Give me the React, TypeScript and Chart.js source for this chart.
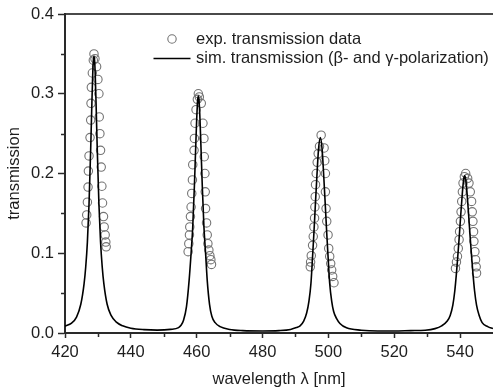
import React, { useEffect, useRef } from 'react';
import { Chart, registerables } from 'chart.js';

Chart.register(...registerables);

// ---- data ----
const simWavelength = [
  420, 422, 423.5, 424.8, 425.8, 426.3, 426.8, 427.3, 427.8, 428.1, 428.4, 428.6, 428.8, 429.0, 429.2, 429.5, 429.8,
  430.3, 430.8, 431.3, 431.8, 432.8, 434.0, 435.5, 437.5, 440, 444, 448, 452, 454.5, 455.3, 456.0, 456.9, 457.7,
  458.3, 458.8, 459.3, 459.7, 460.0, 460.3, 460.5, 460.7, 461.0, 461.3, 461.7, 462.2, 462.7, 463.2, 463.9, 464.6,
  465.6, 467.1, 470, 474, 480, 485, 488.5, 490.3, 491.4, 492.5, 493.4, 494.1, 494.7, 495.2, 495.6, 496.0, 496.5,
  497.0, 497.55, 498.1, 498.6, 499.1, 499.5, 499.9, 500.4, 501.0, 501.6, 502.5, 503.5, 505.5, 510, 515, 520, 525,
  529.4, 532.4, 534.4, 536.1, 537.0, 537.8, 538.4, 538.9, 539.3, 539.7, 540.2, 540.7, 541.1, 541.4, 541.7, 542.1,
  542.6, 543.1, 543.5, 543.9, 544.4, 545.0, 545.8, 546.7, 548.4, 550,
];
const simTransmission = [
  0.0085, 0.0125, 0.020, 0.036, 0.062, 0.083, 0.114, 0.162, 0.230, 0.278, 0.322, 0.341, 0.347, 0.341, 0.322, 0.278, 0.230,
  0.162, 0.114, 0.083, 0.062, 0.036, 0.022, 0.014, 0.009, 0.006, 0.0042, 0.0036, 0.0045, 0.0068, 0.010, 0.016, 0.033, 0.066,
  0.100, 0.133, 0.184, 0.233, 0.268, 0.292, 0.297, 0.292, 0.268, 0.233, 0.184, 0.133, 0.100, 0.066, 0.036, 0.021,
  0.013, 0.008, 0.0045, 0.003, 0.0025, 0.003, 0.0045, 0.0068, 0.009, 0.015, 0.025, 0.040, 0.062, 0.096, 0.125, 0.157, 0.196,
  0.230, 0.245, 0.230, 0.196, 0.157, 0.125, 0.096, 0.062, 0.040, 0.027, 0.018, 0.012, 0.0065, 0.0035, 0.0025, 0.0025, 0.003,
  0.0035, 0.0055, 0.009, 0.015, 0.022, 0.035, 0.053, 0.075, 0.096, 0.118, 0.148, 0.176, 0.193, 0.197, 0.193, 0.176,
  0.148, 0.118, 0.096, 0.075, 0.053, 0.035, 0.022, 0.013, 0.008, 0.0055,
];

const expWavelength = [
  426.4, 426.6, 426.8, 427.0, 427.1, 427.3, 427.6, 427.8, 427.9, 428.0, 428.3, 428.6, 428.8, 429.1, 429.6, 430.0, 430.3,
  430.4, 430.6, 430.8, 431.0, 431.2, 431.4, 431.7, 431.9, 432.2, 432.4, 432.5,
  457.4, 457.6, 457.8, 457.9, 458.1, 458.3, 458.5, 458.7, 458.8, 459.2, 459.3, 459.5, 459.8, 460.2, 460.5, 460.8, 461.4,
  461.9, 462.2, 462.3, 462.5, 462.6, 462.7, 463.0, 463.2, 463.4, 463.7, 464.0, 464.3, 464.5,
  494.5, 494.6, 494.8, 495.2, 495.4, 495.6, 495.8, 495.9, 496.0, 496.1, 496.3, 496.6, 496.9, 497.3, 497.8, 498.7, 498.9,
  499.1, 499.1, 499.3, 499.5, 499.9, 500.1, 500.4, 500.7, 501.0, 501.3, 501.7,
  538.6, 538.9, 539.2, 539.45, 539.7, 539.85, 540.1, 540.3, 540.5, 540.7, 540.9, 541.3, 541.7, 542.3, 542.7, 543.1, 543.5,
  543.7, 543.9, 544.1, 544.2, 544.5, 544.7, 544.9, 545.0,
];
const expTransmission = [
  0.138, 0.148, 0.164, 0.183, 0.203, 0.222, 0.245, 0.267, 0.288, 0.308, 0.326, 0.342, 0.350, 0.344, 0.334, 0.318, 0.300,
  0.271, 0.250, 0.229, 0.208, 0.184, 0.163, 0.146, 0.133, 0.123, 0.114, 0.108,
  0.102, 0.112, 0.123, 0.133, 0.146, 0.158, 0.175, 0.192, 0.211, 0.229, 0.244, 0.263, 0.280, 0.293, 0.300, 0.296, 0.288,
  0.263, 0.244, 0.221, 0.200, 0.177, 0.156, 0.138, 0.123, 0.112, 0.104, 0.097, 0.092, 0.086,
  0.083, 0.089, 0.097, 0.110, 0.121, 0.133, 0.144, 0.158, 0.171, 0.186, 0.200, 0.214, 0.225, 0.234, 0.248, 0.232, 0.216,
  0.200, 0.177, 0.156, 0.140, 0.123, 0.106, 0.096, 0.087, 0.079, 0.071, 0.063,
  0.081, 0.089, 0.096, 0.106, 0.117, 0.127, 0.140, 0.152, 0.165, 0.177, 0.188, 0.196, 0.200, 0.194, 0.188, 0.177, 0.165,
  0.152, 0.140, 0.127, 0.115, 0.102, 0.092, 0.083, 0.075,
];

const xMajorTicks = [420, 440, 460, 480, 500, 520, 540];
const xMinorTicks = [430, 450, 470, 490, 510, 530];
const yMajorTicks = [0.0, 0.1, 0.2, 0.3, 0.4];
const yMinorTicks = [0.05, 0.15, 0.25, 0.35];
const xLimits = [420, 550];
const yLimits = [0, 0.4];

const expLabel = 'exp. transmission data';
const simLabel = 'sim. transmission (\u03b2- and \u03b3-polarization)';
const xTitle = 'wavelength \u03bb [nm]';
const yTitle = 'transmission';

const FONT_FAMILY = "'Liberation Sans', Arial, Helvetica, sans-serif";
const FONT_SIZE = 16.5;
const TEXT_COLOR = '#1e1e1e';
const AXIS_COLOR = '#2a2a2a';
const CIRCLE_COLOR = '#747474';

const minorTicksPlugin = {
  id: 'minorTicks',
  afterDraw(chart: any) {
    const ctx = chart.ctx;
    const xs = chart.scales.x;
    const ys = chart.scales.y;
    const area = chart.chartArea;
    ctx.save();
    ctx.strokeStyle = AXIS_COLOR;
    ctx.lineWidth = 1.5;
    ctx.beginPath();
    yMinorTicks.forEach((v) => {
      const py = Math.round(ys.getPixelForValue(v)) + 0.5;
      ctx.moveTo(area.left - 4, py);
      ctx.lineTo(area.left, py);
    });
    xMinorTicks.forEach((v) => {
      const px = Math.round(xs.getPixelForValue(v)) + 0.5;
      ctx.moveTo(px, area.bottom);
      ctx.lineTo(px, area.bottom + 4);
    });
    ctx.stroke();
    ctx.restore();
  },
};

const legendPlugin = {
  id: 'insetLegend',
  afterDraw(chart: any) {
    const ctx = chart.ctx;
    const area = chart.chartArea;
    const ds = chart.data.datasets;
    const markerX = area.left + 107;
    const textX = area.left + 131;
    const rows = [area.top + 25, area.top + 44.5];
    ctx.save();
    ctx.font = `${FONT_SIZE}px ${FONT_FAMILY}`;
    ctx.textBaseline = 'middle';
    ctx.textAlign = 'left';
    ctx.fillStyle = TEXT_COLOR;
    ctx.beginPath();
    ctx.strokeStyle = ds[0].borderColor;
    ctx.lineWidth = ds[0].borderWidth;
    ctx.arc(markerX, rows[0], ds[0].pointRadius, 0, Math.PI * 2);
    ctx.stroke();
    ctx.fillText(ds[0].label, textX, rows[0]);
    ctx.beginPath();
    ctx.strokeStyle = ds[1].borderColor;
    ctx.lineWidth = ds[1].borderWidth;
    ctx.moveTo(markerX - 18.5, rows[1]);
    ctx.lineTo(markerX + 18.5, rows[1]);
    ctx.stroke();
    ctx.fillText(ds[1].label, textX, rows[1]);
    ctx.restore();
  },
};

export default function App() {
  const ref = useRef<HTMLCanvasElement | null>(null);

  useEffect(() => {
    const canvas = ref.current;
    if (!canvas) return;
    const expData = expWavelength.map((x, i) => ({ x, y: expTransmission[i] }));
    const simData = simWavelength.map((x, i) => ({ x, y: simTransmission[i] }));
    const tickFont = { family: FONT_FAMILY, size: FONT_SIZE };

    const chart = new Chart(canvas, {
      type: 'scatter',
      data: {
        datasets: [
          {
            label: expLabel,
            data: expData,
            showLine: false,
            pointStyle: 'circle',
            pointRadius: 4.2,
            pointHoverRadius: 4.2,
            borderColor: CIRCLE_COLOR,
            backgroundColor: 'rgba(0,0,0,0)',
            borderWidth: 1.1,
            order: 1,
          } as any,
          {
            label: simLabel,
            data: simData,
            showLine: true,
            pointRadius: 0,
            borderColor: '#000000',
            backgroundColor: '#000000',
            borderWidth: 1.6,
            cubicInterpolationMode: 'monotone',
            order: 0,
          } as any,
        ],
      },
      options: {
        animation: false,
        responsive: false,
        devicePixelRatio: 1,
        layout: { autoPadding: false, padding: { top: 14, right: 0, left: 0, bottom: 0 } },
        plugins: {
          legend: { display: false },
          tooltip: { enabled: false },
        },
        scales: {
          x: {
            type: 'linear',
            position: 'bottom',
            min: xLimits[0],
            max: xLimits[1],
            afterBuildTicks: (s: any) => {
              s.ticks = xMajorTicks.map((v) => ({ value: v }));
            },
            afterFit: (s: any) => {
              s.height = 59;
              s.paddingLeft = 0;
              s.paddingRight = 0;
            },
            ticks: {
              font: tickFont,
              color: TEXT_COLOR,
              padding: 5,
              maxRotation: 0,
              callback: (v: any) => String(v),
            },
            grid: {
              display: true,
              drawOnChartArea: false,
              drawTicks: true,
              tickLength: 5,
              tickColor: AXIS_COLOR,
              tickWidth: 1.5,
            },
            border: { display: true, color: AXIS_COLOR, width: 2 },
            title: {
              display: true,
              text: xTitle,
              font: tickFont,
              color: TEXT_COLOR,
              padding: { top: 0, bottom: 3 },
            },
          },
          xTop: {
            type: 'linear',
            position: 'top',
            min: xLimits[0],
            max: xLimits[1],
            afterFit: (s: any) => {
              s.height = 0;
              s.paddingLeft = 0;
              s.paddingRight = 0;
            },
            ticks: { display: false },
            grid: { display: true, drawOnChartArea: false, drawTicks: false },
            border: { display: true, color: '#4a4a4a', width: 2 },
          },
          y: {
            type: 'linear',
            position: 'left',
            min: yLimits[0],
            max: yLimits[1],
            afterBuildTicks: (s: any) => {
              s.ticks = yMajorTicks.map((v) => ({ value: v }));
            },
            afterFit: (s: any) => {
              s.width = 65;
              s.paddingTop = 0;
              s.paddingBottom = 0;
            },
            ticks: {
              font: tickFont,
              color: TEXT_COLOR,
              padding: 4,
              callback: (v: any) => Number(v).toFixed(1),
            },
            grid: {
              display: true,
              drawOnChartArea: false,
              drawTicks: true,
              tickLength: 7,
              tickColor: AXIS_COLOR,
              tickWidth: 1.5,
            },
            border: { display: true, color: AXIS_COLOR, width: 2 },
            title: {
              display: true,
              text: yTitle,
              font: tickFont,
              color: TEXT_COLOR,
              padding: { top: 5, bottom: 0 },
            },
          },
        },
      } as any,
      plugins: [minorTicksPlugin, legendPlugin],
    });

    return () => chart.destroy();
  }, []);

  return (
    <div style={{ position: 'fixed', left: 0, top: 0, width: 493, height: 392, background: '#ffffff' }}>
      <canvas ref={ref} width={493} height={392} style={{ width: 493, height: 392, display: 'block' }} />
    </div>
  );
}
